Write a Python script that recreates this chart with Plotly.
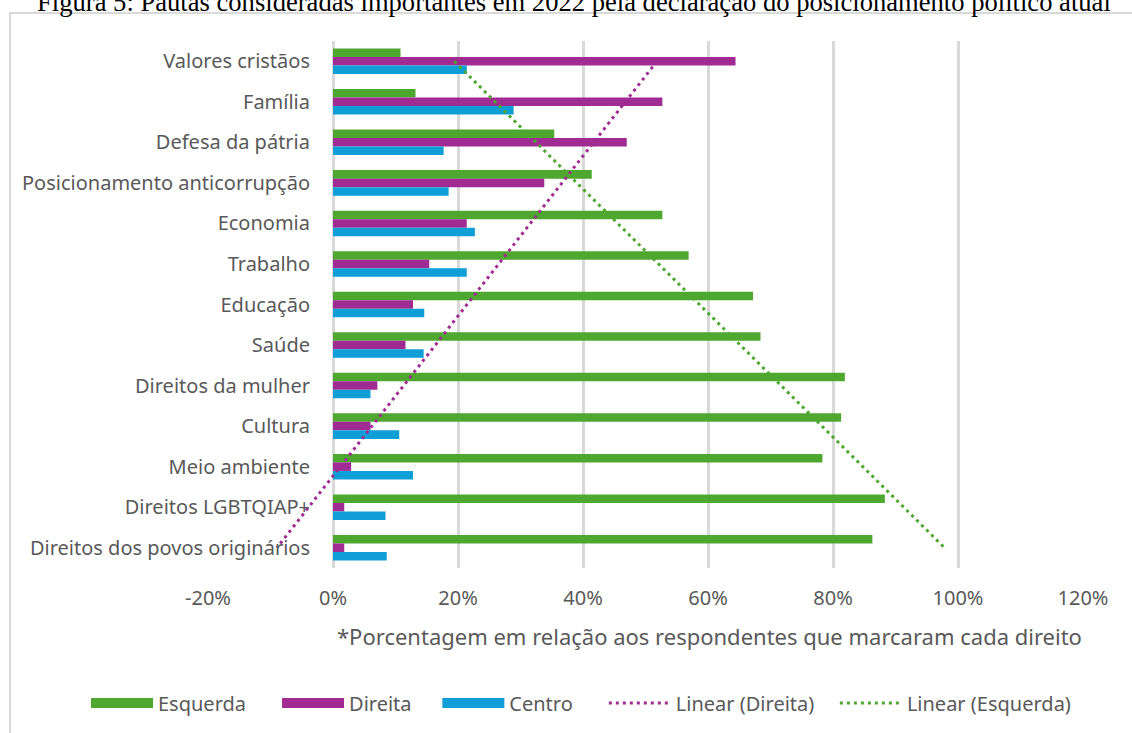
import numpy as np
import plotly.graph_objects as go

# ---------------- data (top-to-bottom order as shown) ----------------
categories = [
    "Valores cristãos", "Família", "Defesa da pátria", "Posicionamento anticorrupção",
    "Economia", "Trabalho", "Educação", "Saúde", "Direitos da mulher", "Cultura",
    "Meio ambiente", "Direitos LGBTQIAP+", "Direitos dos povos originários",
]
esquerda = [10.8, 13.2, 35.4, 41.4, 52.7, 56.9, 67.2, 68.4, 81.9, 81.3, 78.3, 88.3, 86.3]
direita = [64.4, 52.7, 47.0, 33.8, 21.4, 15.4, 12.8, 11.6, 7.1, 6.0, 2.9, 1.8, 1.8]
centro = [21.4, 28.9, 17.7, 18.5, 22.7, 21.4, 14.6, 14.5, 6.0, 10.6, 12.8, 8.4, 8.6]
x_tickvals = [-20, 0, 20, 40, 60, 80, 100, 120]
x_ticktext = ["-20%", "0%", "20%", "40%", "60%", "80%", "100%", "120%"]
title_text = "Figura 5: Pautas consideradas importantes em 2022 pela declaração do posicionamento político atual"
note_text = "*Porcentagem em relação aos respondentes que marcaram cada direito"

# ---------------- styling ----------------
GREEN, PURPLE, BLUE = "#4EA72E", "#A02B93", "#0F9ED5"
GRID = "#D9D9D9"
TXT = "#595959"
FONT = "Noto Sans"

W, H = 1132, 733
L, R, T, B = 208, 49, 41, 165
PW, PH = W - L - R, H - T - B


def px_x(px):
    return (px - L) / PW


def px_y(py):
    return (H - B - py) / PH


# linear trendlines (as Excel's "Linear" trendline over category index)
idx = np.arange(len(categories))
fit_dir = np.polyval(np.polyfit(idx, direita, 1), idx)
fit_esq = np.polyval(np.polyfit(idx, esquerda, 1), idx)

NB = "\u00a0"
fig = go.Figure()
series = [("Esquerda", esquerda, GREEN, 5), ("Direita", direita, PURPLE, 4), ("Centro", centro, BLUE, 5)]
for name, vals, col, _ in series:
    fig.add_trace(go.Bar(y=categories, x=vals, orientation="h", name=name,
                         legendgroup=name, showlegend=False,
                         marker=dict(color=col, line=dict(width=0))))
# legend swatches for the bar series (wide bars as in the original legend)
for rank, (name, vals, col, npad) in enumerate(series, start=1):
    fig.add_trace(go.Scatter(x=[None], y=[None], mode="lines", name=name + NB * npad,
                             legendgroup=name, legendrank=rank, showlegend=True,
                             hoverinfo="skip", line=dict(color=col, width=10)))
fig.add_trace(go.Scatter(y=categories, x=fit_dir, mode="lines", name="Linear (Direita)" + NB * 3,
                         legendrank=4, line=dict(color=PURPLE, width=3, dash="3px,4px")))
fig.add_trace(go.Scatter(y=categories, x=fit_esq, mode="lines", name="Linear (Esquerda)",
                         legendrank=5, line=dict(color=GREEN, width=3, dash="3px,4px")))

fig.update_layout(
    width=W, height=H,
    margin=dict(l=L, r=R, t=T, b=B, autoexpand=False),
    paper_bgcolor="white", plot_bgcolor="white",
    barmode="group", bargap=0.37, bargroupgap=0,
    font=dict(family=FONT, size=20, color=TXT),
    showlegend=True,
    legend=dict(orientation="h", x=px_x(86), xanchor="left", y=px_y(703), yanchor="middle",
                font=dict(family=FONT, size=20, color=TXT), itemwidth=62,
                traceorder="normal", bgcolor="rgba(0,0,0,0)"),
    xaxis=dict(range=[-20, 120], tickvals=x_tickvals, ticktext=x_ticktext,
               showgrid=True, gridcolor=GRID, gridwidth=2.5,
               zeroline=True, zerolinecolor=GRID, zerolinewidth=2.5,
               showline=False, ticks="", ticklabelstandoff=16,
               tickfont=dict(family=FONT, size=20, color=TXT), fixedrange=True),
    yaxis=dict(type="category", categoryorder="array", categoryarray=categories,
               range=[len(categories) - 0.5, -0.5], anchor="free", position=px_x(333),
               showgrid=False, zeroline=False, showline=False, ticks="",
               ticklabelstandoff=23, tickfont=dict(family=FONT, size=20, color=TXT),
               fixedrange=True),
)

# title (clipped at top, serif)
fig.add_annotation(text=title_text, xref="paper", yref="paper", x=px_x(574), y=px_y(2),
                   xanchor="center", yanchor="middle", showarrow=False,
                   font=dict(family="Liberation Serif", size=26.6, color="black"))
# footnote
fig.add_annotation(text=note_text, xref="paper", yref="paper", x=px_x(709), y=px_y(636),
                   xanchor="center", yanchor="middle", showarrow=False,
                   font=dict(family=FONT, size=22, color=TXT))
# chart frame
fig.add_shape(type="rect", xref="paper", yref="paper",
              x0=px_x(10), x1=px_x(1145), y0=px_y(745), y1=px_y(13),
              line=dict(color=GRID, width=2), fillcolor="rgba(0,0,0,0)", layer="below")

fig.write_html("out.html", config={"displayModeBar": False},
               post_script="document.body.style.margin='0';")
